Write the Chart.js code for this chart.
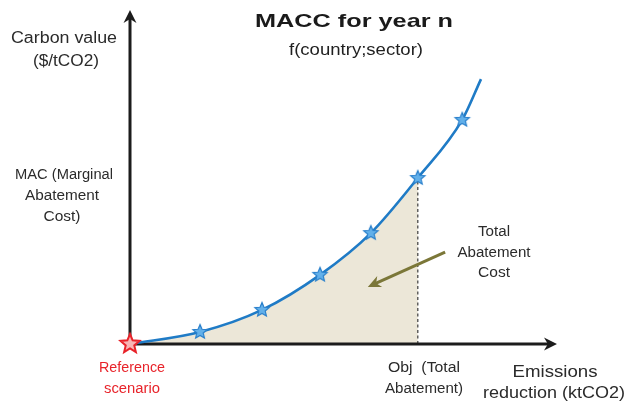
<!DOCTYPE html>
<html>
<head>
<meta charset="utf-8">
<script src="https://cdn.jsdelivr.net/npm/chart.js@4.4.1/dist/chart.umd.min.js"></script>
<style>
  html, body { margin: 0; padding: 0; background: #ffffff; }
  #wrap { width: 626px; height: 405px; position: relative; }
</style>
</head>
<body>
<div id="wrap"><canvas id="c"></canvas></div>
<script>
// ---- Data ----
const emissionReduction = [0, 16.4, 30.9, 44.5, 56.4, 67.4, 77.8, 82.2];   // x values
const carbonValue       = [0, 3.6, 10.2, 20.7, 33.2, 49.7, 67.1, 79.3];    // y values
const objIndex = 5;               // point used as "Obj (Total Abatement)"
const xAxisMax = 100;
const yAxisMax = 100;
// arrow pointing at the total abatement cost area (data coords)
const costArrowFrom = [73.8, 27.5];
const costArrowTo   = [55.7, 17.1];

// ---- Text labels ----
const titleText = 'MACC for year n';
const subtitleText = 'f(country;sector)';
const yAxisTitle = ['Carbon value', '($/tCO2)'];
const macLabel = ['MAC (Marginal', 'Abatement', 'Cost)'];
const totalCostLabel = ['Total', 'Abatement', 'Cost'];
const referenceLabel = ['Reference', 'scenario'];
const objLabel = ['Obj  (Total', 'Abatement)'];
const xAxisTitle = ['Emissions', 'reduction (ktCO2)'];

// ---- Star marker images ----
function makeStar(r, fill, stroke, lw) {
  const size = Math.ceil(2 * r + 2 * lw + 2);
  const cv = document.createElement('canvas');
  cv.width = size; cv.height = size;
  const g = cv.getContext('2d');
  const cx = size / 2, cy = size / 2, ri = r * 0.45;
  g.beginPath();
  for (let i = 0; i < 10; i++) {
    const rad = (i % 2 === 0) ? r : ri;
    const a = -Math.PI / 2 + i * Math.PI / 5;
    const px = cx + rad * Math.cos(a), py = cy + rad * Math.sin(a);
    if (i === 0) g.moveTo(px, py); else g.lineTo(px, py);
  }
  g.closePath();
  g.fillStyle = fill; g.fill();
  g.lineWidth = lw; g.strokeStyle = stroke; g.stroke();
  return cv;
}
const blueStar = makeStar(7.5, '#62b0ea', '#2a80cc', 1.2);
const redStar = makeStar(10, '#f7b5b5', '#e8232a', 2);

const points = emissionReduction.map((x, i) => ({ x: x, y: carbonValue[i] }));

function drawText(ctx, s, cx, cy, font, color, w) {
  ctx.save();
  ctx.font = font;
  ctx.fillStyle = color;
  ctx.textAlign = 'center';
  ctx.textBaseline = 'middle';
  const m = ctx.measureText(s).width;
  const sx = w ? w / m : 1;
  ctx.translate(cx, cy);
  ctx.scale(sx, 1);
  ctx.fillText(s, 0, 0);
  ctx.restore();
}

function arrowHead(ctx, x1, y1, x2, y2, len, half, color) {
  const a = Math.atan2(y2 - y1, x2 - x1);
  ctx.save();
  ctx.fillStyle = color;
  ctx.beginPath();
  ctx.moveTo(x2, y2);
  ctx.lineTo(x2 - len * Math.cos(a) + half * Math.sin(a), y2 - len * Math.sin(a) - half * Math.cos(a));
  ctx.lineTo(x2 - len * 0.7 * Math.cos(a), y2 - len * 0.7 * Math.sin(a));
  ctx.lineTo(x2 - len * Math.cos(a) - half * Math.sin(a), y2 - len * Math.sin(a) + half * Math.cos(a));
  ctx.closePath();
  ctx.fill();
  ctx.restore();
}

const maccPlugin = {
  id: 'macc',
  beforeDatasetsDraw(chart) {
    const ctx = chart.ctx;
    const xs = chart.scales.x, ys = chart.scales.y, a = chart.chartArea;
    const x0 = xs.getPixelForValue(0), y0 = ys.getPixelForValue(0);
    const xEnd = xs.getPixelForValue(xAxisMax), yEnd = ys.getPixelForValue(yAxisMax);
    const xObj = xs.getPixelForValue(emissionReduction[objIndex]);
    const yObj = ys.getPixelForValue(carbonValue[objIndex]);

    // shaded total abatement cost area, following the library's curve
    const meta = chart.getDatasetMeta(0);
    if (meta.dataset && meta.dataset.updateControlPoints) {
      meta.dataset.updateControlPoints(a, 'x');
    }
    const pts = meta.data;
    ctx.save();
    ctx.beginPath();
    ctx.rect(a.left - 2, a.top - 10, xObj - a.left + 2, a.bottom - a.top + 10);
    ctx.clip();
    ctx.beginPath();
    ctx.moveTo(pts[0].x, pts[0].y);
    for (let i = 1; i < pts.length; i++) {
      const p = pts[i - 1], q = pts[i];
      if (p.cp2x !== undefined && q.cp1x !== undefined) {
        ctx.bezierCurveTo(p.cp2x, p.cp2y, q.cp1x, q.cp1y, q.x, q.y);
      } else {
        ctx.lineTo(q.x, q.y);
      }
    }
    ctx.lineTo(pts[pts.length - 1].x, y0);
    ctx.lineTo(pts[0].x, y0);
    ctx.closePath();
    ctx.fillStyle = '#ece7d8';
    ctx.fill();
    ctx.restore();

    // dashed Obj line
    ctx.save();
    ctx.strokeStyle = '#4a4a4a';
    ctx.lineWidth = 1.3;
    ctx.setLineDash([3, 2.5]);
    ctx.beginPath();
    ctx.moveTo(xObj, y0);
    ctx.lineTo(xObj, yObj);
    ctx.stroke();
    ctx.restore();

    // axes
    ctx.save();
    ctx.strokeStyle = '#1c1c1c';
    ctx.lineWidth = 3;
    ctx.beginPath();
    ctx.moveTo(x0, y0); ctx.lineTo(xEnd - 8, y0);
    ctx.moveTo(x0, y0 + 1.5); ctx.lineTo(x0, yEnd + 8);
    ctx.stroke();
    ctx.restore();
    arrowHead(ctx, x0, y0, xEnd, y0, 13, 6.5, '#1c1c1c');
    arrowHead(ctx, x0, y0, x0, yEnd, 13, 6.5, '#1c1c1c');

    // olive arrow
    const ax1 = xs.getPixelForValue(costArrowFrom[0]), ay1 = ys.getPixelForValue(costArrowFrom[1]);
    const ax2 = xs.getPixelForValue(costArrowTo[0]), ay2 = ys.getPixelForValue(costArrowTo[1]);
    const ang = Math.atan2(ay2 - ay1, ax2 - ax1);
    ctx.save();
    ctx.strokeStyle = '#7b7738';
    ctx.lineWidth = 3;
    ctx.beginPath();
    ctx.moveTo(ax1, ay1);
    ctx.lineTo(ax2 - 8 * Math.cos(ang), ay2 - 8 * Math.sin(ang));
    ctx.stroke();
    ctx.restore();
    arrowHead(ctx, ax1, ay1, ax2, ay2, 13, 6, '#7b7738');
  },
  afterDraw(chart) {
    const ctx = chart.ctx;
    const dark = '#2b2b2b';
    const F = 'Liberation Sans, Arial, sans-serif';
    drawText(ctx, titleText, 354, 22, 'bold 19px ' + F, '#1a1a1a', 198);
    drawText(ctx, subtitleText, 356, 50, '500 17px ' + F, '#1f1f1f', 134);
    drawText(ctx, yAxisTitle[0], 64, 39, '16px ' + F, dark, 106);
    drawText(ctx, yAxisTitle[1], 66, 62, '16px ' + F, dark, 66);
    drawText(ctx, macLabel[0], 64, 175, '14px ' + F, dark, 98);
    drawText(ctx, macLabel[1], 62, 196, '14px ' + F, dark, 74);
    drawText(ctx, macLabel[2], 62, 217, '14px ' + F, dark, 37);
    drawText(ctx, totalCostLabel[0], 494, 232, '14px ' + F, dark, 32);
    drawText(ctx, totalCostLabel[1], 494, 253, '14px ' + F, dark, 73);
    drawText(ctx, totalCostLabel[2], 494, 273, '14px ' + F, dark, 32);
    drawText(ctx, referenceLabel[0], 132, 368, '14px ' + F, '#e8232a', 66);
    drawText(ctx, referenceLabel[1], 132, 389, '14px ' + F, '#e8232a', 56);
    drawText(ctx, objLabel[0], 424, 368, '14px ' + F, dark, 72);
    drawText(ctx, objLabel[1], 424, 389, '14px ' + F, dark, 78);
    drawText(ctx, xAxisTitle[0], 555, 372, '17px ' + F, dark, 85);
    drawText(ctx, xAxisTitle[1], 554, 393, '17px ' + F, dark, 142);
  }
};

new Chart(document.getElementById('c'), {
  type: 'scatter',
  data: {
    datasets: [
      {
        // MAC curve with stars
        data: points,
        showLine: true,
        fill: false,
        borderColor: '#1f7bc6',
        borderWidth: 2.6,
        cubicInterpolationMode: 'monotone',
        pointStyle: ctx => ctx.dataIndex === 0 ? redStar : blueStar,
        pointRadius: ctx => ctx.dataIndex === emissionReduction.length - 1 ? 0 : 7,
        clip: false
      }
    ]
  },
  options: {
    responsive: true,
    maintainAspectRatio: false,
    animation: false,
    layout: { padding: { left: 130, top: 10, right: 69, bottom: 61 } },
    scales: {
      x: { type: 'linear', min: 0, max: xAxisMax, display: false },
      y: { type: 'linear', min: 0, max: yAxisMax, display: false }
    },
    plugins: { legend: { display: false }, tooltip: { enabled: false }, title: { display: false } }
  },
  plugins: [maccPlugin]
});
</script>
</body>
</html>
